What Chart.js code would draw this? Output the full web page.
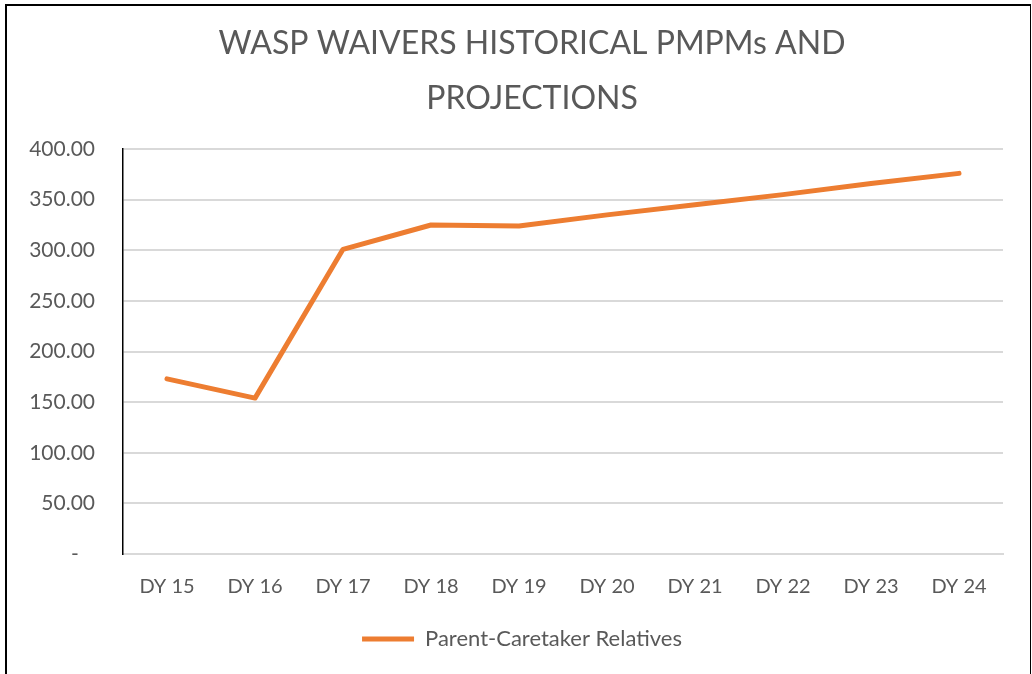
<!DOCTYPE html>
<html>
<head>
<meta charset="utf-8">
<script src="https://cdn.jsdelivr.net/npm/chart.js@4"></script>
<style>
  html, body { margin: 0; padding: 0; background: #fff; overflow: hidden; }
  #wrap { position: relative; width: 1032px; height: 674px; }
  #frame {
    position: absolute; left: 5px; top: 4px; width: 1023px; height: 720px;
    border-left: 2px solid #000; border-top: 2px solid #000; border-right: 1px solid #000;
    pointer-events: none;
  }
  canvas { position: absolute; left: 0; top: 0; }
</style>
</head>
<body>
<div id="wrap">
  <canvas id="chart" width="1032" height="674"></canvas>
  <div id="frame"></div>
</div>
<script>
// chart data
const categories = ['DY 15', 'DY 16', 'DY 17', 'DY 18', 'DY 19', 'DY 20', 'DY 21', 'DY 22', 'DY 23', 'DY 24'];
const parentCaretaker = [173, 154, 301, 325, 324, 335, 345, 355, 366, 376];
const seriesName = 'Parent-Caretaker Relatives';
const titleLines = ['WASP WAIVERS HISTORICAL PMPMs AND', 'PROJECTIONS'];

const FONT = 'Lato';
const TEXT = '#595959';
const ORANGE = '#ED7D31';

// Excel centres title and legend a bit to the right of the canvas centre,
// so nudge their boxes after layout instead of padding the whole chart
const shiftBlocks = {
    id: 'shiftBlocks',
    afterLayout(chart) {
        chart.titleBlock.left = 61;
        chart.legend.left = 41;
    }
};

new Chart(document.getElementById('chart'), {
    type: 'line',
    data: {
        labels: categories,
        datasets: [{
            label: seriesName,
            data: parentCaretaker,
            borderColor: ORANGE,
            backgroundColor: ORANGE,
            borderWidth: 5,
            borderCapStyle: 'round',
            borderJoinStyle: 'round',
            pointRadius: 0,
            tension: 0,
            fill: false
        }]
    },
    options: {
        responsive: false,
        animation: false,
        layout: { padding: { top: 16, right: 29, bottom: 14, left: 0 } },
        plugins: {
            title: {
                display: true,
                text: titleLines,
                color: TEXT,
                font: { family: FONT, size: 32, weight: 'normal', lineHeight: 1.72 },
                padding: { top: 0, bottom: 23 }
            },
            legend: {
                position: 'bottom',
                labels: {
                    color: TEXT,
                    font: { family: FONT, size: 22 },
                    usePointStyle: true,
                    pointStyle: 'line',
                    pointStyleWidth: 52,
                    padding: 10
                }
            },
            tooltip: { enabled: false }
        },
        scales: {
            x: {
                offset: true,
                grid: { display: false, drawTicks: false },
                border: { color: '#d9d9d9', width: 2 },
                ticks: { color: TEXT, font: { family: FONT, size: 20 }, padding: 21, maxRotation: 0 },
                afterFit: s => { s.height = 64; }
            },
            y: {
                min: 0,
                max: 400,
                ticks: {
                    stepSize: 50,
                    color: TEXT,
                    font: { family: FONT, size: 21 },
                    padding: 28,
                    callback: v => v === 0 ? '-   ' : v.toFixed(2)
                },
                grid: { color: '#d9d9d9', lineWidth: 2, drawTicks: false },
                border: { color: '#000', width: 1.5 },
                afterFit: s => { s.width = 123; }
            }
        }
    },
    plugins: [shiftBlocks]
});
</script>
</body>
</html>
